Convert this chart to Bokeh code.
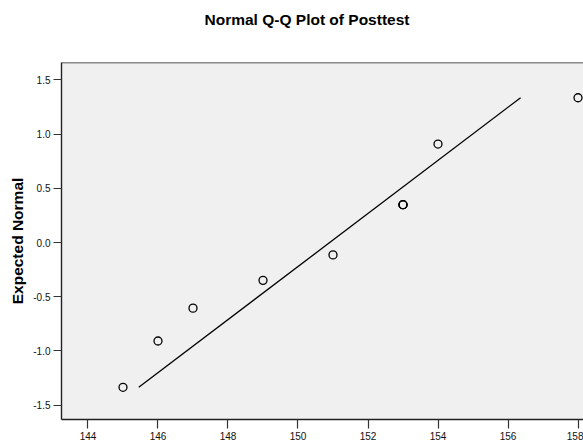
from bokeh.plotting import figure
from bokeh.models import FixedTicker, NumeralTickFormatter, Span, Range1d, Title
from bokeh.embed import file_html
from bokeh.resources import INLINE

posttest = [145, 146, 147, 149, 151, 153, 153, 153, 154, 158]
expected_normal = [-1.335, -0.908, -0.605, -0.349, -0.114, 0.349, 0.349, 0.349, 0.908, 1.335]

# Reference line end points
line_x = [145.45, 156.36]
line_y = [-1.335, 1.335]

x_ticks = [144, 146, 148, 150, 152, 154, 156, 158]
y_ticks = [-1.5, -1.0, -0.5, 0.0, 0.5, 1.0, 1.5]

TITLE = "Normal Q-Q Plot of Posttest"
FONT = "Liberation Sans"

p = figure(width=583, height=443, output_backend="svg", toolbar_location=None, title=None,
           x_range=Range1d(143.243, 158.157), y_range=Range1d(-1.632, 1.66),
           min_border_left=61, min_border_right=0, min_border_top=62, min_border_bottom=24,
           background_fill_color="#f0f0f0", border_fill_color="white")

p.outline_line_color = None
p.grid.visible = False

for ax in (p.xaxis, p.yaxis):
    ax.axis_line_color = "#222222"
    ax.axis_line_width = 1.4
    ax.major_tick_line_color = "#333333"
    ax.major_tick_line_width = 1.2
    ax.major_tick_in = 0
    ax.minor_tick_line_color = None
    ax.major_label_text_font = FONT
    ax.major_label_text_font_size = "10px"
    ax.major_label_text_color = "#111111"

p.xaxis.ticker = FixedTicker(ticks=x_ticks)
p.xaxis.major_tick_out = 9
p.xaxis.major_label_standoff = 3

p.yaxis.ticker = FixedTicker(ticks=y_ticks)
p.yaxis.formatter = NumeralTickFormatter(format="0.0")
p.yaxis.major_tick_out = 8
p.yaxis.major_label_standoff = 3
p.yaxis.axis_label = "Expected Normal"
p.yaxis.axis_label_text_font = FONT
p.yaxis.axis_label_text_font_size = "15.5px"
p.yaxis.axis_label_text_font_style = "bold"
p.yaxis.axis_label_text_color = "black"
p.yaxis.axis_label_standoff = 4

top_line = Span(location=p.y_range.end, dimension="width", line_color="#222222", line_width=1.4)
p.add_layout(top_line)

# empty spacer between frame and title, then the title itself (farther from the frame)
spacer = Title(text=" ", text_font_size="1px", standoff=24)
p.add_layout(spacer, "above")
main_title = Title(text=TITLE, align="left", offset=143, standoff=16,
                   text_font=FONT, text_font_size="15.5px", text_font_style="bold",
                   text_color="black")
p.add_layout(main_title, "above")

p.line(line_x, line_y, line_color="black", line_width=1.3)
p.scatter(posttest, expected_normal, marker="circle", size=8, fill_color=None,
          line_color="black", line_width=1.3)

open("out.html", "w").write(file_html(p, INLINE))
